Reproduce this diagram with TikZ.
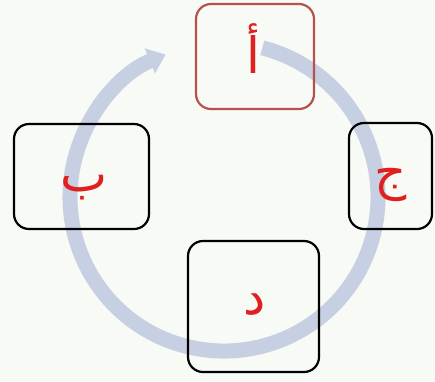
\documentclass[tikz,border=0pt]{standalone}
\usepackage{fontspec}
\newfontfamily\arabicfont[Script=Arabic]{DejaVu Sans}
\TeXXeTstate=1
\usetikzlibrary{arrows.meta}
\definecolor{bgc}{HTML}{F8FAF6}
\definecolor{arcc}{HTML}{C7CFE3}
\definecolor{txtred}{HTML}{E0201E}
\definecolor{abord}{HTML}{B5524E}
\tikzset{
  box/.style={draw=black, line width=2.2pt, rounded corners=15pt, inner sep=0pt},
  lbl/.style={text=txtred, inner sep=0pt, anchor=base, font=\arabicfont\fontsize{50}{50}\selectfont},
  cyc/.style={draw=arcc, line width=15pt, -{Triangle[width=26pt,length=17pt]}}
}
\begin{document}
\begin{tikzpicture}[x=1pt,y=-1pt]
\fill[bgc] (0,0) rectangle (435,381);
\useasboundingbox (0,0) rectangle (435,381);
\coordinate (ctr) at (224,197);
\draw[cyc] ([shift={(75.6:154pt)}]ctr) arc[start angle=75.6, end angle=-247.7, radius=154pt];
\node[box, draw=abord, minimum width=118pt, minimum height=105pt] (A) at (255,56.5) {};
\node[box, minimum width=135pt, minimum height=105pt] (B) at (81.5,176.5) {};
\node[box, minimum width=83pt, minimum height=106pt] (C) at (390.5,176) {};
\node[box, minimum width=131pt, minimum height=131pt] (D) at (253.5,306.5) {};
\node[lbl] (tA) at (253.5,73) {\beginR أ\endR};
\node[lbl] (tB) at (84,191) {\beginR ب\endR};
\node[lbl] (tC) at (391,189) {\beginR ج\endR};
\node[lbl] (tD) at (254.5,314) {\beginR د\endR};
\end{tikzpicture}
\end{document}
